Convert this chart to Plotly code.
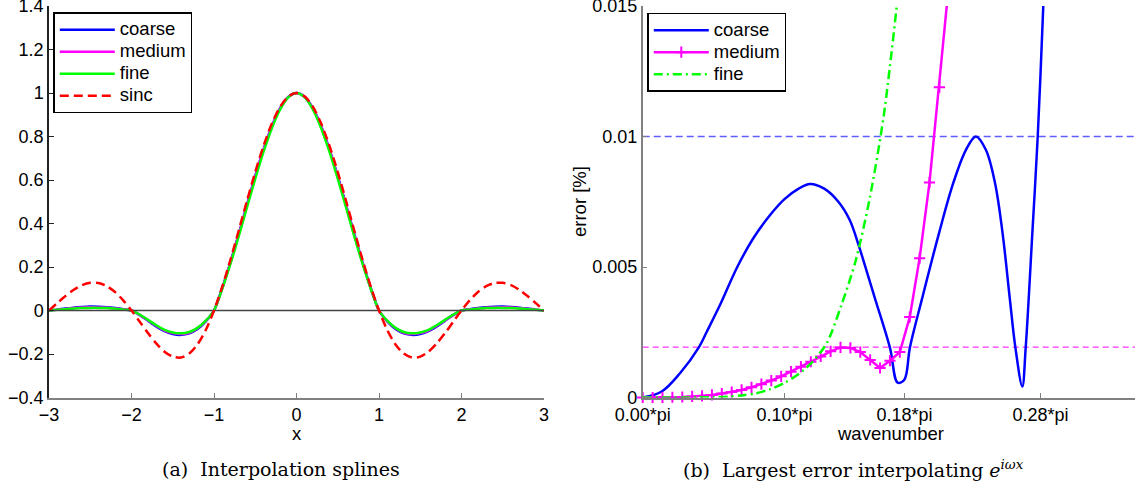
import plotly.graph_objects as go

W, H = 1135, 486

# ---------------- left panel data ----------------
x_left = [-3.0, -2.9, -2.8, -2.7, -2.6, -2.5, -2.4, -2.3, -2.2, -2.1,
          -2.0, -1.9, -1.8, -1.7, -1.6, -1.5, -1.4, -1.3, -1.2, -1.1,
          -1.0, -0.9, -0.8, -0.7, -0.6, -0.5, -0.4, -0.3, -0.2, -0.1,
          0.0, 0.1, 0.2, 0.3, 0.4, 0.5, 0.6, 0.7, 0.8, 0.9,
          1.0, 1.1, 1.2, 1.3, 1.4, 1.5, 1.6, 1.7, 1.8, 1.9,
          2.0, 2.1, 2.2, 2.3, 2.4, 2.5, 2.6, 2.7, 2.8, 2.9, 3.0]

coarse_left = [0.0, 0.004, 0.009, 0.013, 0.016, 0.018, 0.017, 0.015, 0.011, 0.006,
               0.0, -0.021, -0.047, -0.073, -0.095, -0.108, -0.112, -0.105, -0.085, -0.050,
               0.0, 0.104, 0.223, 0.352, 0.486, 0.618, 0.740, 0.846, 0.929, 0.982,
               1.0, 0.982, 0.929, 0.846, 0.740, 0.618, 0.486, 0.352, 0.223, 0.104,
               0.0, -0.050, -0.085, -0.105, -0.112, -0.108, -0.095, -0.073, -0.047, -0.021,
               0.0, 0.006, 0.011, 0.015, 0.017, 0.018, 0.016, 0.013, 0.009, 0.004, 0.0]

medium_left = [0.0, 0.004, 0.007, 0.011, 0.014, 0.015, 0.014, 0.013, 0.009, 0.005,
               0.0, -0.020, -0.045, -0.070, -0.092, -0.104, -0.108, -0.102, -0.082, -0.048,
               0.0, 0.102, 0.220, 0.349, 0.483, 0.615, 0.737, 0.844, 0.927, 0.981,
               1.0, 0.981, 0.927, 0.844, 0.737, 0.615, 0.483, 0.349, 0.220, 0.102,
               0.0, -0.048, -0.082, -0.102, -0.108, -0.104, -0.092, -0.070, -0.045, -0.020,
               0.0, 0.005, 0.009, 0.013, 0.014, 0.015, 0.014, 0.011, 0.007, 0.004, 0.0]

fine_left = [0.0, 0.003, 0.006, 0.009, 0.011, 0.012, 0.012, 0.011, 0.008, 0.004,
             0.0, -0.019, -0.043, -0.068, -0.089, -0.101, -0.105, -0.099, -0.080, -0.047,
             0.0, 0.100, 0.215, 0.342, 0.475, 0.606, 0.729, 0.837, 0.923, 0.980,
             1.0, 0.980, 0.923, 0.837, 0.729, 0.606, 0.475, 0.342, 0.215, 0.100,
             0.0, -0.047, -0.080, -0.099, -0.105, -0.101, -0.089, -0.068, -0.043, -0.019,
             0.0, 0.004, 0.008, 0.011, 0.012, 0.012, 0.011, 0.009, 0.006, 0.003, 0.0]

sinc_left = [0.0, 0.0339, 0.0668, 0.0954, 0.1164, 0.1273, 0.1261, 0.1120, 0.0850, 0.0468,
             0.0, -0.0518, -0.1039, -0.1515, -0.1892, -0.2122, -0.2162, -0.1981, -0.1559, -0.0894,
             0.0, 0.1093, 0.2339, 0.3679, 0.5046, 0.6366, 0.7568, 0.8584, 0.9355, 0.9836,
             1.0, 0.9836, 0.9355, 0.8584, 0.7568, 0.6366, 0.5046, 0.3679, 0.2339, 0.1093,
             0.0, -0.0894, -0.1559, -0.1981, -0.2162, -0.2122, -0.1892, -0.1515, -0.1039, -0.0518,
             0.0, 0.0468, 0.0850, 0.1120, 0.1261, 0.1273, 0.1164, 0.0954, 0.0668, 0.0339, 0.0]

zero_x = [-3.0, 3.0]
zero_y = [0.0, 0.0]

left_xticks = [-3, -2, -1, 0, 1, 2, 3]
left_xticktext = ["\u22123", "\u22122", "\u22121", "0", "1", "2", "3"]
left_yticks = [-0.4, -0.2, 0, 0.2, 0.4, 0.6, 0.8, 1.0, 1.2, 1.4]
left_yticktext = ["\u22120.4", "\u22120.2", "0", "0.2", "0.4", "0.6", "0.8", "1", "1.2", "1.4"]

# ---------------- right panel data (wavenumber in units of pi) ----------------
coarse_w = [0.0, 0.0134, 0.0263, 0.0397, 0.045, 0.055, 0.0667, 0.078, 0.090, 0.100,
            0.110, 0.118, 0.128, 0.138, 0.146, 0.1525, 0.1565, 0.1638, 0.1744, 0.1798,
            0.1845, 0.1885, 0.1968, 0.209, 0.219, 0.228, 0.235, 0.242, 0.2485, 0.2538,
            0.259, 0.2628, 0.2677, 0.2701, 0.2748, 0.2786, 0.2825, 0.2845]
coarse_e = [0.0, 0.00023, 0.00093, 0.00193, 0.0025, 0.0036, 0.0050, 0.0061, 0.0070, 0.0076,
            0.0080, 0.00818, 0.0080, 0.0075, 0.0068, 0.0058, 0.0051, 0.0038, 0.0019, 0.00057,
            0.00068, 0.00193, 0.00374, 0.0063, 0.00821, 0.00949, 0.0100, 0.00949, 0.00821, 0.0063,
            0.00374, 0.00193, 0.00042, 0.0019, 0.0063, 0.0100, 0.01498, 0.0178]

medium_w = [0.0, 0.00698, 0.01395, 0.02093, 0.0279, 0.03488, 0.04185, 0.04883, 0.0558, 0.06278,
            0.06975, 0.07673, 0.0837, 0.09068, 0.09765, 0.10463, 0.1116, 0.11858, 0.12555, 0.13253,
            0.1395, 0.14648, 0.15345, 0.16043, 0.1674, 0.17438, 0.18135, 0.18833, 0.1953, 0.20228,
            0.20925, 0.21623]
medium_e = [0.0, 0.0, 0.0, 0.00001, 0.00002, 0.00004, 0.00006, 0.0001, 0.00015, 0.00021,
            0.00029, 0.00039, 0.00051, 0.00065, 0.00081, 0.00099, 0.00118, 0.00137, 0.00157, 0.00177,
            0.00192, 0.00190, 0.00174, 0.00144, 0.00113, 0.00141, 0.00174, 0.00308, 0.00534, 0.00824,
            0.01189, 0.0160]

fine_w = [0.0, 0.02, 0.04, 0.05, 0.06, 0.07, 0.08, 0.09, 0.10, 0.11, 0.12, 0.13, 0.14,
          0.15, 0.16, 0.17, 0.18]
fine_e = [0.0, 0.0, 0.000005, 0.00001, 0.00003, 0.00008, 0.00016, 0.00032, 0.00056, 0.00090,
          0.00138, 0.00210, 0.00352, 0.0052, 0.0076, 0.0108, 0.0154]

ref_levels = [0.01, 0.00193]
right_xrange = [0.0, 0.3472]
right_xticks = [0.0, 0.10, 0.1847, 0.2805]
right_xticktext = ["0.00*pi", "0.10*pi", "0.18*pi", "0.28*pi"]
right_yticks = [0.0, 0.005, 0.01, 0.015]
right_yticktext = ["0", "0.005", "0.01", "0.015"]

SANS = "Liberation Sans, Arial, Helvetica, sans-serif"
SERIF = "DejaVu Serif, serif"
BLUE, MAG, GREEN, RED = "#0000ff", "#ff00ff", "#00ff00", "#ff0000"
LEG_FS = 18.5


def lname(s):
    # legend text drawn at full size while entry spacing follows the smaller legend font
    return '<span style="font-size:%.1fpx">%s</span>' % (LEG_FS, s)


fig = go.Figure()

# left panel
fig.add_trace(go.Scatter(x=x_left, y=coarse_left, name=lname("coarse"), mode="lines",
                         line=dict(color=BLUE, width=2.5, shape="spline", smoothing=0.8),
                         xaxis="x", yaxis="y", legend="legend"))
fig.add_trace(go.Scatter(x=x_left, y=medium_left, name=lname("medium"), mode="lines",
                         line=dict(color=MAG, width=2.5, shape="spline", smoothing=0.8),
                         xaxis="x", yaxis="y", legend="legend"))
fig.add_trace(go.Scatter(x=x_left, y=fine_left, name=lname("fine"), mode="lines",
                         line=dict(color=GREEN, width=2.5, shape="spline", smoothing=0.8),
                         xaxis="x", yaxis="y", legend="legend"))
fig.add_trace(go.Scatter(x=zero_x, y=zero_y, mode="lines", showlegend=False,
                         line=dict(color="#444444", width=1.3), hoverinfo="skip",
                         xaxis="x", yaxis="y"))
fig.add_trace(go.Scatter(x=x_left, y=sinc_left, name=lname("sinc"), mode="lines",
                         line=dict(color=RED, width=2.5, dash="9px,5px", shape="spline", smoothing=0.8),
                         xaxis="x", yaxis="y", legend="legend"))

# right panel
fig.add_trace(go.Scatter(x=right_xrange, y=[ref_levels[0]] * 2, mode="lines", showlegend=False,
                         line=dict(color="rgba(40,40,255,0.75)", width=1.5, dash="7px,4px"),
                         hoverinfo="skip", xaxis="x2", yaxis="y2"))
fig.add_trace(go.Scatter(x=right_xrange, y=[ref_levels[1]] * 2, mode="lines", showlegend=False,
                         line=dict(color=MAG, width=1, dash="6px,4px"),
                         hoverinfo="skip", xaxis="x2", yaxis="y2"))
fig.add_trace(go.Scatter(x=coarse_w, y=coarse_e, name=lname("coarse"), mode="lines",
                         line=dict(color=BLUE, width=2.5, shape="spline", smoothing=1.0),
                         xaxis="x2", yaxis="y2", legend="legend2"))
fig.add_trace(go.Scatter(x=medium_w, y=medium_e, name=lname("medium"), mode="lines+markers",
                         line=dict(color=MAG, width=2.5),
                         marker=dict(symbol="cross-thin", size=8, color=MAG, line=dict(color=MAG, width=2)),
                         cliponaxis=False,
                         xaxis="x2", yaxis="y2", legend="legend2"))
fig.add_trace(go.Scatter(x=fine_w, y=fine_e, name=lname("fine"), mode="lines",
                         line=dict(color=GREEN, width=2.5, dash="9px,4px,2px,4px", shape="spline", smoothing=0.8),
                         xaxis="x2", yaxis="y2", legend="legend2"))

ydom = [(H - 397.5) / H, (H - 6) / H]
axis_common = dict(showgrid=False, zeroline=False, ticks="inside", ticklen=5, tickwidth=1,
                   tickfont=dict(family=SANS, size=18, color="black"), showline=True,
                   linewidth=1.5, mirror=False, fixedrange=True, automargin=False,
                   ticklabeloverflow="allow")

legend_common = dict(xanchor="left", yanchor="top", bgcolor="white", bordercolor="black",
                     borderwidth=1.5, font=dict(family=SANS, size=14.6, color="black"),
                     itemwidth=55, tracegroupgap=0)

fig.update_layout(
    template="none",
    width=W, height=H, margin=dict(l=0, r=0, t=0, b=0, autoexpand=False),
    paper_bgcolor="white", plot_bgcolor="white",
    xaxis=dict(domain=[49 / W, 544 / W], range=[-3, 3], anchor="y",
               tickvals=left_xticks, ticktext=left_xticktext,
               linecolor="#808080", tickcolor="#808080", **axis_common),
    yaxis=dict(domain=ydom, range=[-0.4, 1.4], anchor="x",
               tickvals=left_yticks, ticktext=left_yticktext,
               linecolor="#222222", tickcolor="#222222", **axis_common),
    xaxis2=dict(domain=[642.7 / W, 1.0], range=right_xrange, anchor="y2",
                tickvals=right_xticks, ticktext=right_xticktext,
                linecolor="#808080", tickcolor="#808080", **axis_common),
    yaxis2=dict(domain=ydom, range=[0, 0.015], anchor="x2",
                tickvals=right_yticks, ticktext=right_yticktext,
                linecolor="#808080", tickcolor="#808080", **axis_common),
    legend=dict(x=53.3 / W, y=(H - 12.3) / H, **legend_common),
    legend2=dict(x=647.3 / W, y=(H - 12.7) / H, **legend_common),
    showlegend=True,
)

annotations = [
    dict(text="x", x=296.5 / W, y=(H - 433) / H),
    dict(text="wavenumber", x=890 / W, y=(H - 433) / H),
    dict(text="error [%]", x=579 / W, y=(H - 202) / H, textangle=-90),
]
for a in annotations:
    fig.add_annotation(xref="paper", yref="paper", showarrow=False,
                       xanchor="center", yanchor="middle",
                       font=dict(family=SANS, size=18.5, color="black"), **a)

captions = [
    dict(text="(a)  Interpolation splines", x=281 / W),
    dict(text="(b)  Largest error interpolating <i>e</i><sup><i>i\u03c9x</i></sup>", x=853 / W),
]
for c in captions:
    fig.add_annotation(xref="paper", yref="paper", showarrow=False,
                       xanchor="center", yanchor="middle", y=(H - 469) / H,
                       font=dict(family=SERIF, size=19, color="black"), **c)

fig.write_html("out.html",
               config={"displayModeBar": False},
               post_script="document.body.style.margin='0px';document.body.style.padding='0px';")
